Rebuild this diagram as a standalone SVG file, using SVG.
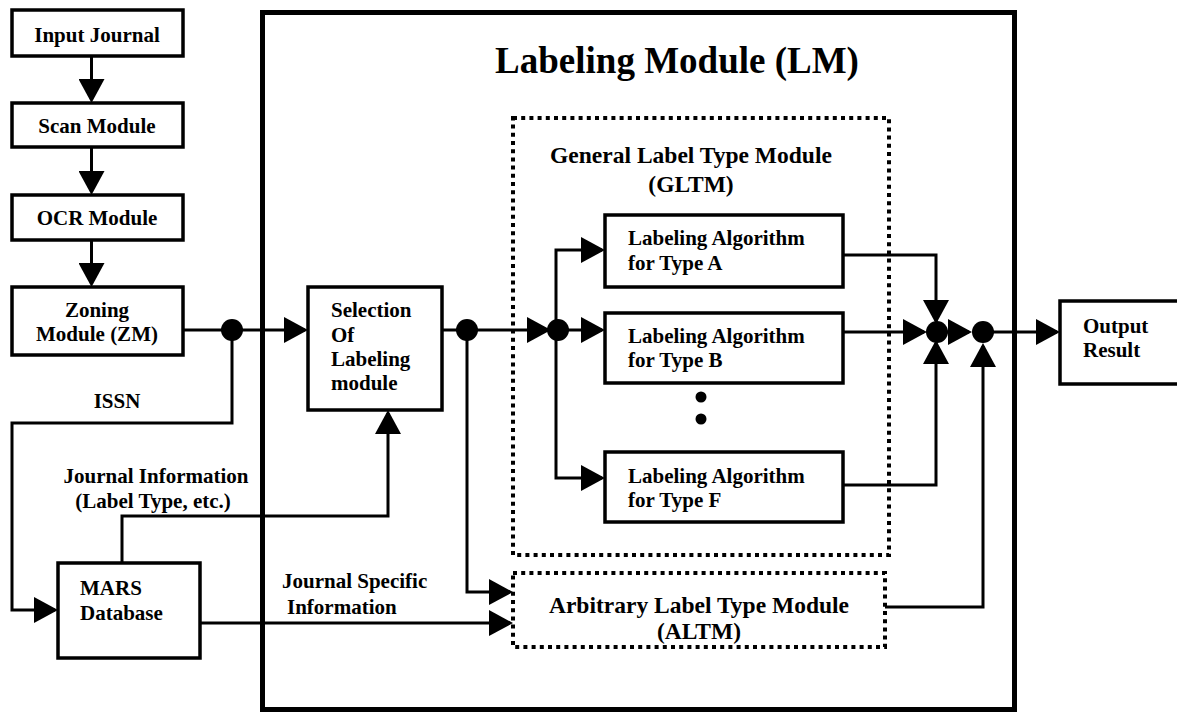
<svg xmlns="http://www.w3.org/2000/svg" width="1177" height="715" viewBox="0 0 1177 715" font-family="'Liberation Serif', Tinos, 'Times New Roman', 'DejaVu Serif', serif" font-weight="bold">
<style>
text{font-family:'Liberation Serif', Tinos, 'Times New Roman', 'DejaVu Serif', serif;font-weight:bold;fill:#000;}
.t{font-size:21px;}
.c{text-anchor:middle;}
.box{fill:#fff;stroke:#000;stroke-width:3.5;}
.dot{fill:none;stroke:#000;stroke-width:4;stroke-dasharray:4 4.2;}
.ln{fill:none;stroke:#000;stroke-width:3;marker-end:url(#ah);}
.j{fill:#000;}
</style>
<defs>
<marker id="ah" markerUnits="userSpaceOnUse" viewBox="0 0 24 26" markerWidth="24" markerHeight="26" refX="21" refY="13" orient="auto">
<path d="M0,0 L24,13 L0,26 z" fill="#000"/>
</marker>
</defs>
<rect width="1177" height="715" fill="#fff"/>

<g id="lm">
<rect x="262.5" y="12.5" width="752" height="697" fill="none" stroke="#000" stroke-width="5"/>
<text x="677" y="73" style="font-size:37px" class="c">Labeling Module (LM)</text>
</g>
<g id="gltm">
<rect class="dot" x="513" y="118" width="376" height="437"/>
<text class="c" x="691" y="163" style="font-size:23.5px">General Label Type Module</text>
<text class="c" x="691" y="192" style="font-size:23.5px">(GLTM)</text>
</g>
<g id="altm">
<rect class="dot" x="513" y="573" width="372" height="74"/>
<text class="c" x="699" y="613" style="font-size:23.5px">Arbitrary Label Type Module</text>
<text class="c" x="699" y="639" style="font-size:23.5px">(ALTM)</text>
</g>

<g id="connectors">
<path class="ln" d="M91.5,56 V100"/>
<path class="ln" d="M91.5,147 V192"/>
<path class="ln" d="M91.5,240 V284"/>
<path class="ln" d="M183,330 H305"/>
<path class="ln" d="M232,330 V423 H12 V610 H55"/>
<path class="ln" d="M122,563 V516 H388 V413"/>
<path class="ln" d="M200,623 H510"/>
<path class="ln" d="M442,330 H548"/>
<path class="ln" d="M467,330 V592 H510"/>
<path class="ln" d="M558,330 H602"/>
<path class="ln" d="M556,330 V250 H602"/>
<path class="ln" d="M556,330 V478 H602"/>
<path class="ln" d="M843,255 H936 V321"/>
<path class="ln" d="M843,332 H924"/>
<path class="ln" d="M843,485 H936 V343"/>
<path class="ln" d="M937,332 H969"/>
<path class="ln" d="M885,607 H983 V346"/>
<path class="ln" d="M983,332 H1057"/>
<circle class="j" cx="232" cy="330" r="11"/>
<circle class="j" cx="467" cy="330" r="11"/>
<circle class="j" cx="558" cy="330" r="11"/>
<circle class="j" cx="937" cy="332" r="11"/>
<circle class="j" cx="983" cy="332" r="11"/>
<circle class="j" cx="701" cy="397" r="5.5"/>
<circle class="j" cx="701" cy="419" r="5.5"/>
<text class="t c" x="117" y="408">ISSN</text>
<text class="t c" x="156" y="483">Journal Information</text>
<text class="t c" x="153" y="508">(Label Type, etc.)</text>
<text class="t" x="282" y="588">Journal Specific</text>
<text class="t" x="287" y="614">Information</text>
</g>

<g id="input">
<rect class="box" x="12" y="10" width="171" height="46"/>
<text class="t c" x="97" y="42">Input Journal</text>
</g>
<g id="scan">
<rect class="box" x="12" y="103" width="171" height="44"/>
<text class="t c" x="97" y="133">Scan Module</text>
</g>
<g id="ocr">
<rect class="box" x="12" y="195" width="171" height="45"/>
<text class="t c" x="97" y="225">OCR Module</text>
</g>
<g id="zoning">
<rect class="box" x="12" y="287" width="171" height="68"/>
<text class="t c" x="97" y="317">Zoning</text>
<text class="t c" x="97" y="341">Module (ZM)</text>
</g>
<g id="mars">
<rect class="box" x="58" y="563" width="142" height="95"/>
<text class="t" x="80" y="595">MARS</text>
<text class="t" x="80" y="620">Database</text>
</g>
<g id="selection">
<rect class="box" x="308" y="287" width="134" height="123"/>
<text class="t" x="331" y="317">Selection</text>
<text class="t" x="331" y="342">Of</text>
<text class="t" x="331" y="366">Labeling</text>
<text class="t" x="331" y="390">module</text>
</g>
<g id="typeA">
<rect class="box" x="605" y="215" width="238" height="72"/>
<text class="t" x="628" y="245">Labeling Algorithm</text>
<text class="t" x="628" y="270">for Type A</text>
</g>
<g id="typeB">
<rect class="box" x="605" y="313" width="238" height="70"/>
<text class="t" x="628" y="343">Labeling Algorithm</text>
<text class="t" x="628" y="367">for Type B</text>
</g>
<g id="typeF">
<rect class="box" x="605" y="452" width="238" height="70"/>
<text class="t" x="628" y="483">Labeling Algorithm</text>
<text class="t" x="628" y="507">for Type F</text>
</g>
<g id="output">
<rect class="box" x="1060" y="301" width="130" height="83"/>
<text class="t" x="1083" y="333">Output</text>
<text class="t" x="1083" y="357">Result</text>
</g>
</svg>
